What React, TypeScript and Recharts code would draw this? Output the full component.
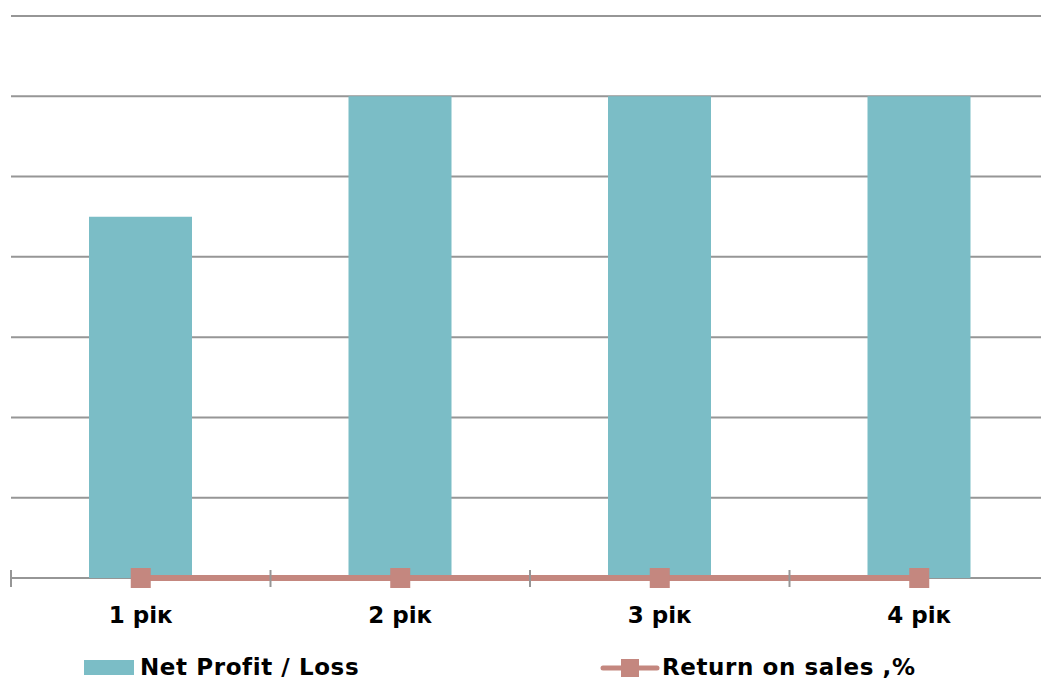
import React from "react";
import {
  Bar,
  CartesianGrid,
  ComposedChart,
  Line,
  XAxis,
  YAxis,
} from "recharts";

const years = ["1 рік", "2 рік", "3 рік", "4 рік"];
const netProfit = [4.5, 6, 6, 6];
const returnOnSales = [0, 0, 0, 0];
const yTicks = [0, 1, 2, 3, 4, 5, 6, 7];

const data = years.map((year, i) => ({
  year,
  netProfit: netProfit[i],
  returnOnSales: returnOnSales[i],
}));

const BAR_COLOR = "#7bbdc6";
const LINE_COLOR = "#c4877f";
const GRID_COLOR = "#969696";
const FONT = "'DejaVu Sans', Verdana, sans-serif";

const CHART_W = 1060;
const CHART_H = 681;
const MARGIN = { top: 16, right: 11, left: 11, bottom: 0 };
const PLOT_W = CHART_W - MARGIN.left - MARGIN.right;
const BAND = PLOT_W / years.length;

// label under each category plus Excel-style tick marks on the band edges
const YearTick = (props: any) => {
  const { x, y, payload, index } = props;
  const axisY = y - 8;
  const left = x - BAND / 2;
  const right = x + BAND / 2;
  return (
    <g>
      <line x1={left} x2={left} y1={axisY - 8} y2={axisY + 9} stroke={GRID_COLOR} strokeWidth={2} />
      {index === years.length - 1 && (
        <line x1={right} x2={right} y1={axisY - 8} y2={axisY + 9} stroke={GRID_COLOR} strokeWidth={2} />
      )}
      <text
        x={x}
        y={axisY + 45}
        textAnchor="middle"
        fontFamily={FONT}
        fontWeight="bold"
        fontSize={23}
        fill="#000"
      >
        {payload.value}
      </text>
    </g>
  );
};

const SquareDot = (props: any) => {
  const { cx, cy, index } = props;
  return <rect key={index} x={cx - 10} y={cy - 10} width={20} height={20} fill={LINE_COLOR} />;
};

const legendText: React.CSSProperties = {
  fontFamily: FONT,
  fontWeight: "bold",
  fontSize: 23,
  letterSpacing: 0.6,
  lineHeight: "28px",
  color: "#000",
  position: "absolute",
  top: 653,
  whiteSpace: "nowrap",
};

export default function App() {
  return (
    <div
      style={{
        position: "fixed",
        left: 0,
        top: 0,
        width: 1041,
        height: 681,
        overflow: "hidden",
        background: "#fff",
      }}
    >
      <ComposedChart width={CHART_W} height={CHART_H} data={data} margin={MARGIN}>
        {/* the grid line at zero doubles as the category axis */}
        <CartesianGrid vertical={false} stroke={GRID_COLOR} strokeWidth={2} />
        <YAxis hide domain={[0, 7]} ticks={yTicks} />
        <XAxis
          dataKey="year"
          height={103}
          axisLine={false}
          tickLine={false}
          tickSize={0}
          tickMargin={8}
          tick={<YearTick />}
          interval={0}
        />
        <Bar dataKey="netProfit" fill={BAR_COLOR} barSize={103} isAnimationActive={false} />
        <Line
          dataKey="returnOnSales"
          stroke={LINE_COLOR}
          strokeWidth={6}
          dot={<SquareDot />}
          activeDot={false}
          isAnimationActive={false}
        />
      </ComposedChart>

      {/* legend */}
      <div style={{ position: "absolute", left: 84, top: 660, width: 50, height: 15, background: BAR_COLOR }} />
      <div style={{ ...legendText, left: 140 }}>Net Profit / Loss</div>
      <svg style={{ position: "absolute", left: 600, top: 657 }} width={60} height={22}>
        <line x1={3} x2={57} y1={11} y2={11} stroke={LINE_COLOR} strokeWidth={5} strokeLinecap="round" />
        <rect x={21} y={2} width={18} height={18} fill={LINE_COLOR} />
      </svg>
      <div style={{ ...legendText, left: 662 }}>Return on sales ,%</div>
    </div>
  );
}
